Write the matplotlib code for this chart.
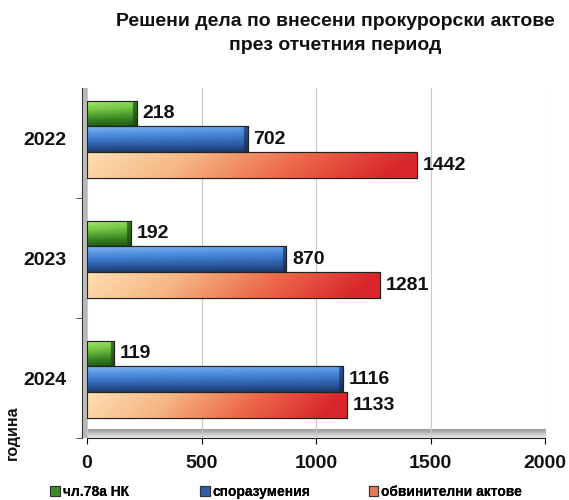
import numpy as np
import matplotlib
matplotlib.use("Agg")
import matplotlib.pyplot as plt
from matplotlib.colors import LinearSegmentedColormap
from matplotlib.patches import Rectangle

years = ["2022", "2023", "2024"]
series_names = ["чл.78а НК", "споразумения", "обвинителни актове"]
art78 = [218, 192, 119]
agreements = [702, 870, 1116]
indictments = [1442, 1281, 1133]
x_ticks = [0, 500, 1000, 1500, 2000]

plt.rcParams['font.family'] = ['Liberation Sans', 'DejaVu Sans']

fig = plt.figure(figsize=(5.69, 5.0), dpi=100)
ax = fig.add_axes([0.153, 0.124, 0.805, 0.700])
for s in ["top", "right"]:
    ax.spines[s].set_visible(False)
ax.spines["left"].set_position(("outward", 4))
ax.spines["left"].set_color("#333333")
ax.spines["left"].set_linewidth(0.8)
ax.spines["bottom"].set_color("#222222")

offsets = [-0.205, 0.01, 0.225]
heights = [0.215, 0.215, 0.215]
values = [art78, agreements, indictments]
cmaps = [
    LinearSegmentedColormap.from_list("g", ["#1a440f", "#3a8424", "#78c846", "#a8e870"]),
    LinearSegmentedColormap.from_list("b", ["#132a50", "#2c5ca4", "#4a8ade", "#7fb4f0"]),
    LinearSegmentedColormap.from_list("r", ["#fde0b0", "#f6b684", "#ec6a4a", "#d8262a"]),
]
legend_colors = ["#3f8a26", "#2e5fa8", "#e07a5a"]
px_per_unit = 0.805 * 569 / 2000.0

ypos = np.arange(len(years))
for si in range(3):
    bars = ax.barh(ypos + offsets[si], values[si], height=heights[si],
                   color=legend_colors[si], edgecolor="#222222", linewidth=0.8,
                   zorder=3, label=series_names[si])
    for bi, b in enumerate(bars):
        x0, y0 = b.get_x(), b.get_y()
        w, h = b.get_width(), b.get_height()
        ncols = 400
        if si < 2:
            v = np.linspace(1.0, 0.12, 50)[:, None]
            hgrad = np.linspace(1.0, 0.85, ncols)[None, :]
            grad = v * hgrad
            cap = max(1, int(round(ncols * 4.0 / (w * px_per_unit))))
            grad[:, -cap:] *= 0.35
        else:
            hgrad = np.linspace(0.0, 1.0, ncols)[None, :]
            v = np.linspace(0.0, 0.1, 50)[:, None]
            grad = np.clip(hgrad + v, 0, 1)
        img = ax.imshow(grad, extent=[x0, x0 + w, y0 + h, y0], origin="upper",
                        cmap=cmaps[si], vmin=0, vmax=1, aspect="auto", zorder=3.5)
        img.set_clip_path(b)
        ax.add_patch(Rectangle((x0, y0), w, h, fill=False, edgecolor="#222222",
                               linewidth=0.8, zorder=4))
        ax.text(x0 + w + 25, y0 + h / 2, str(values[si][bi]), va="center", ha="left",
                fontsize=14, fontweight="bold", color="#111111", zorder=5)

# floor band
floor = np.linspace(0.6, 0.93, 30)[:, None] * np.ones((1, 100))
ax.imshow(floor, extent=[0, 2000, 2.5, 2.43], cmap="gray", vmin=0, vmax=1,
          aspect="auto", zorder=1, origin="upper")

ax.set_xlim(0, 2000)
ax.set_ylim(2.5, -0.417)
ax.set_yticks([0.5, 1.5, 2.5], minor=True)
ax.set_yticks(ypos)
ax.set_yticklabels(years, fontsize=14, fontweight="bold", color="#111111")
ax.set_xticks(x_ticks)
ax.set_xticklabels([str(t) for t in x_ticks], fontsize=14, fontweight="bold", color="#111111")
ax.tick_params(axis="y", which="major", length=0, pad=11)
ax.tick_params(axis="y", which="minor", length=4, color="#333333")
ax.tick_params(axis="x", length=4, pad=8)
ax.grid(axis="x", color="#c8c8c8", linewidth=0.8, zorder=0)

# side wall
fig.patches.append(Rectangle((0.1455, 0.124), 0.0075, 0.700, transform=fig.transFigure,
                             facecolor="#b8b8b8", edgecolor="none", zorder=0))

fig.text(0.589, 0.958, "Решени дела по внесени прокурорски актове", ha="center",
         va="center", fontsize=14, fontweight="bold", color="#111111")
fig.text(0.589, 0.908, "през отчетния период", ha="center", va="center",
         fontsize=14, fontweight="bold", color="#111111")
fig.text(0.022, 0.135, "година", rotation=90, ha="center", va="center",
         fontsize=11.5, fontweight="bold", color="#111111")

lx = [0.088, 0.352, 0.648]
for i in range(3):
    h = Rectangle((0, 0), 1, 1, facecolor=legend_colors[i], edgecolor="#333333", linewidth=0.8)
    lg = fig.legend([h], [series_names[i]], loc="center left",
                    bbox_to_anchor=(lx[i], 0.016), frameon=False,
                    prop={"weight": "bold", "size": 10}, borderaxespad=0,
                    borderpad=0, handlelength=0.7, handleheight=0.7, handletextpad=0.2)
    fig.add_artist(lg)

fig.savefig("out.png", dpi=100)
